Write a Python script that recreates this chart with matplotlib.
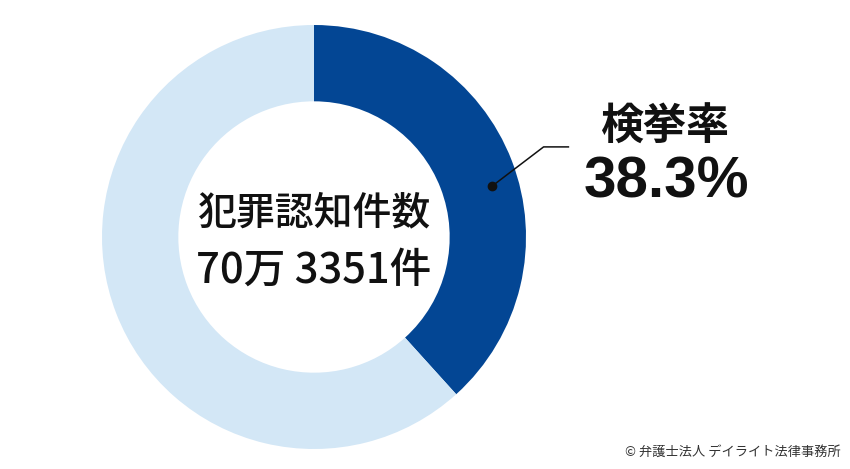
import matplotlib
matplotlib.use('Agg')
import matplotlib.pyplot as plt

plt.rcParams['font.family'] = ['Noto Sans CJK JP', 'DejaVu Sans']

labels = ['検挙', '未検挙']
shares = [38.3, 61.7]
colors = ['#034694', '#d3e7f6']
center_title = '犯罪認知件数'
center_value = '70万 3351件'
rate_title = '検挙率'
rate_value = '38.3%'
credit = '© 弁護士法人 デイライト法律事務所'

W, H = 850, 469
fig = plt.figure(figsize=(W / 100, H / 100), dpi=100)

# donut: centre (314, 237) px, outer radius 212 px
cx, cy, R = 314, 237, 212
ax = fig.add_axes([(cx - R) / W, (H - cy - R) / H, 2 * R / W, 2 * R / H])
ax.pie(shares, colors=colors, startangle=90, counterclock=False, radius=1,
       wedgeprops=dict(width=0.36, linewidth=0))
ax.set_xlim(-1, 1)
ax.set_ylim(-1, 1)
ax.set_aspect('equal')
ax.axis('off')

ax.text(0, 0.11, center_title, ha='center', va='center', fontsize=28,
        fontweight='medium', color='#111111')
ax.text(0, -0.155, center_value, ha='center', va='center', fontsize=30,
        fontweight='medium', color='#111111')

# leader line with dot
ax.plot([0.84], [0.24], 'o', color='#111111', markersize=6)
ax.plot([0.84, 1.083, 1.2], [0.24, 0.425, 0.425], color='#111111', lw=1.1,
        clip_on=False)

fig.text(665 / W, 1 - 127 / H, rate_title, ha='center', va='center',
         fontsize=31, fontweight='bold', color='#111111')
fig.text(666 / W, 1 - 183 / H, rate_value, ha='center', va='center',
         fontsize=42, fontweight='bold', color='#111111',
         family=['Liberation Sans', 'DejaVu Sans'])

fig.text(841 / W, 1 - 452 / H, credit, ha='right', va='center',
         fontsize=9.5, color='#333333')

fig.savefig('out.png', dpi=100, facecolor='white')
